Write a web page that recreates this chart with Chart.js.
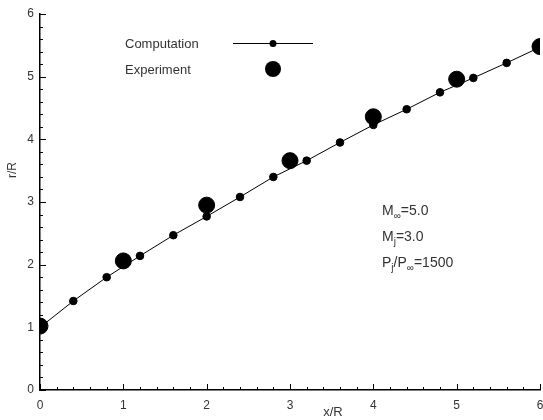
<!DOCTYPE html>
<html>
<head>
<meta charset="utf-8">
<script src="https://cdn.jsdelivr.net/npm/chart.js@4.4.0/dist/chart.umd.min.js"></script>
<style>
  html, body { margin: 0; padding: 0; background: #fff; }
  #wrap { width: 543px; height: 420px; }
</style>
</head>
<body>
<div id="wrap"><canvas id="myChart" width="543" height="420"></canvas></div>
<script>
// computation (small dots + line)
var compX = [0, 0.4, 0.8, 1.2, 1.6, 2.0, 2.4, 2.8, 3.2, 3.6, 4.0, 4.4, 4.8, 5.2, 5.6, 6.0];
var compR = [1.0, 1.42, 1.80, 2.14, 2.47, 2.77, 3.08, 3.40, 3.66, 3.95, 4.23, 4.48, 4.75, 4.98, 5.22, 5.47];
// experiment (big dots)
var expX = [0, 1, 2, 3, 4, 5, 6];
var expR = [1.02, 2.06, 2.95, 3.66, 4.36, 4.96, 5.48];
var xTicks = [0, 1, 2, 3, 4, 5, 6];
var yTicks = [0, 1, 2, 3, 4, 5, 6];

var FONT = "'Liberation Sans', Arial, sans-serif";
var TXT = '#333';

function pts(xs, ys) {
    return xs.map(function(x, i) { return { x: x, y: ys[i] }; });
}

// inward major/minor ticks + free texts
var extras = {
    id: 'extras',
    afterDraw: function(chart) {
        var ctx = chart.ctx;
        var xs = chart.scales.x, ys = chart.scales.y;
        var left = chart.chartArea.left, bottom = chart.chartArea.bottom;
        ctx.save();
        ctx.strokeStyle = '#000';
        ctx.lineWidth = 1;
        ctx.beginPath();
        for (var i = 0; i <= 30; i++) {
            var v = i * 0.2;
            var len = (i % 5 == 0) ? 6 : 3;
            var px = Math.round(xs.getPixelForValue(v)) + 0.5;
            ctx.moveTo(px, bottom);
            ctx.lineTo(px, bottom - len);
            var py = Math.round(ys.getPixelForValue(v)) + 0.5;
            ctx.moveTo(left, py);
            ctx.lineTo(left + len, py);
        }
        ctx.stroke();

        // axis titles
        ctx.fillStyle = TXT;
        ctx.font = '13px ' + FONT;
        ctx.textAlign = 'center';
        ctx.textBaseline = 'alphabetic';
        ctx.fillText('x/R', 333, 416);
        ctx.save();
        ctx.translate(16, 170);
        ctx.rotate(-Math.PI / 2);
        ctx.font = '12px ' + FONT;
        ctx.fillText('r/R', 0, 0);
        ctx.restore();

        // legend
        ctx.textAlign = 'left';
        ctx.fillText('Computation', 125, 48);
        ctx.fillText('Experiment', 125, 74);
        ctx.beginPath();
        ctx.moveTo(233, 43.5);
        ctx.lineTo(313, 43.5);
        ctx.stroke();
        ctx.fillStyle = '#000';
        ctx.beginPath();
        ctx.arc(273, 43.5, 3.5, 0, Math.PI * 2);
        ctx.fill();
        ctx.beginPath();
        ctx.arc(273, 69, 8, 0, Math.PI * 2);
        ctx.fill();

        // parameters
        ctx.fillStyle = TXT;
        function sub(parts, x, y) {
            parts.forEach(function(p) {
                ctx.font = (p[1] ? '10px ' : '14px ') + FONT;
                ctx.fillText(p[0], x, y + (p[1] ? 4 : 0));
                x += ctx.measureText(p[0]).width;
            });
        }
        sub([['M', 0], ['\u221e', 1], ['=5.0', 0]], 382, 215);
        sub([['M', 0], ['j', 1], ['=3.0', 0]], 382, 241);
        sub([['P', 0], ['j', 1], ['/P', 0], ['\u221e', 1], ['=1500', 0]], 382, 267);
        ctx.restore();
    }
};

var ctx = document.getElementById('myChart').getContext('2d');
var chart = new Chart(ctx, {
    type: 'scatter',
    data: {
        datasets: [{
            label: 'Computation',
            data: pts(compX, compR),
            showLine: true,
            borderColor: '#000',
            backgroundColor: '#000',
            borderWidth: 1,
            pointRadius: 3.8,
            pointHoverRadius: 3.8
        }, {
            label: 'Experiment',
            data: pts(expX, expR),
            showLine: false,
            borderColor: '#000',
            backgroundColor: '#000',
            pointRadius: 8,
            pointHoverRadius: 8
        }]
    },
    options: {
        responsive: false,
        animation: false,
        events: [],
        layout: { autoPadding: false, padding: { top: 14, right: 3, left: 0, bottom: 0 } },
        plugins: {
            legend: { display: false },
            tooltip: { enabled: false }
        },
        scales: {
            x: {
                type: 'linear',
                min: 0, max: 6,
                afterBuildTicks: function(s) { s.ticks = xTicks.map(function(v) { return { value: v }; }); },
                afterFit: function(s) { s.height = 30; s.paddingLeft = 0; s.paddingRight = 0; },
                grid: { display: false, drawTicks: false },
                border: { display: true, color: '#000', width: 1.5 },
                ticks: { padding: 8, color: TXT, font: { family: FONT, size: 12 } }
            },
            y: {
                type: 'linear',
                min: 0, max: 6,
                afterBuildTicks: function(s) { s.ticks = yTicks.map(function(v) { return { value: v }; }); },
                afterFit: function(s) { s.width = 40; s.paddingTop = 0; s.paddingBottom = 0; },
                grid: { display: false, drawTicks: false },
                border: { display: true, color: '#000', width: 1.5 },
                ticks: { padding: 6, color: TXT, font: { family: FONT, size: 12 } }
            }
        }
    },
    plugins: [extras]
});
</script>
</body>
</html>
